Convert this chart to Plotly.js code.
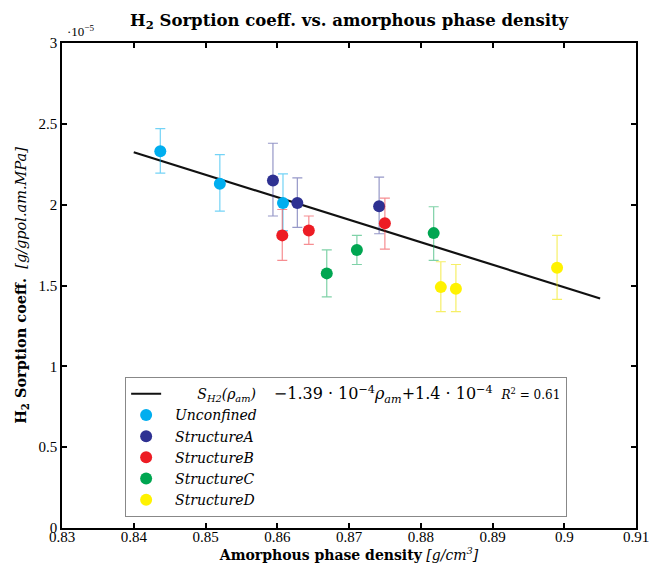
<!DOCTYPE html>
<html><head><meta charset="utf-8">
<script src="https://cdn.plot.ly/plotly-3.0.1.min.js"></script>
<style>body{margin:0;background:#fff}#chart{width:649px;height:567px}</style>
</head><body><div id="chart"></div>
<script>
// values of y in units of 1e-5
const seriesNames = ["<i>Unconfined</i>","<i>StructureA</i>","<i>StructureB</i>","<i>StructureC</i>","<i>StructureD</i>"];
const seriesColors = ["#00AEEF","#2E3192","#ED1C24","#00A651","#FFF200"];
const errColors = ["rgba(0,174,239,0.55)","rgba(46,49,146,0.5)","rgba(237,28,36,0.5)","rgba(0,166,81,0.5)","rgba(240,228,0,0.6)"];

const uncX = [0.8437, 0.8520, 0.8608];
const uncY = [2.33, 2.13, 2.01];
const uncUp = [2.47, 2.31, 2.19];
const uncLo = [2.195, 1.96, 1.84];

const aX = [0.8594, 0.8628, 0.8742];
const aY = [2.15, 2.01, 1.99];
const aUp = [2.38, 2.166, 2.17];
const aLo = [1.93, 1.86, 1.82];

const bX = [0.8607, 0.8644, 0.8750];
const bY = [1.81, 1.84, 1.885];
const bUp = [1.97, 1.93, 2.04];
const bLo = [1.655, 1.755, 1.725];

const cX = [0.8669, 0.8711, 0.8818];
const cY = [1.575, 1.72, 1.824];
const cUp = [1.72, 1.81, 1.987];
const cLo = [1.43, 1.63, 1.655];

const dX = [0.8828, 0.8849, 0.8990];
const dY = [1.49, 1.48, 1.61];
const dUp = [1.647, 1.63, 1.81];
const dLo = [1.338, 1.338, 1.414];

const fitX = [0.84, 0.905];
const fitY = [2.324, 1.42];

const xTicks = [0.83,0.84,0.85,0.86,0.87,0.88,0.89,0.9,0.91];
const xTickText = ["0.83","0.84","0.85","0.86","0.87","0.88","0.89","0.9","0.91"];
const yTicks = [0,0.5,1,1.5,2,2.5,3];
const yTickText = ["0","0.5","1","1.5","2","2.5","3"];

const groups = [[uncX,uncY,uncUp,uncLo],[aX,aY,aUp,aLo],[bX,bY,bUp,bLo],[cX,cY,cUp,cLo],[dX,dY,dUp,dLo]];

const traces = [{
  x: fitX, y: fitY, mode: "lines", type: "scatter",
  line: {color: "#111", width: 2.2},
  name: "       <i>S<sub>H2</sub>(ρ<sub>am</sub>)</i>    <span style='font-size:16px'>−1.39 · 10<sup>−4</sup><i>ρ<sub>am</sub></i>+1.4 · 10<sup>−4</sup></span>  <span style='font-size:12px'><i>R</i><sup>2</sup> = 0.61</span>"
}];
groups.forEach((g,i)=>{
  traces.push({
    x: g[0], y: g[1], type: "scatter", mode: "markers",
    name: "  " + seriesNames[i],
    marker: {color: seriesColors[i], size: 12},
    error_y: {type: "data", symmetric: false,
      array: g[2].map((v,k)=>v-g[1][k]),
      arrayminus: g[1].map((v,k)=>v-g[3][k]),
      color: errColors[i], thickness: 1.2, width: 5}
  });
});

const axisCommon = {
  showgrid: false, zeroline: false, showline: true, linecolor: "#000", linewidth: 1.5,
  mirror: "ticks", ticks: "inside", ticklen: 5, tickwidth: 1.5, tickcolor: "#000",
  ticklabeloverflow: "allow",
  tickfont: {family: "Liberation Serif, serif", size: 15, color: "#000"}
};

const layout = {
  width: 649, height: 567,
  margin: {l: 62, r: 13, t: 43, b: 39},
  paper_bgcolor: "#fff", plot_bgcolor: "#fff",
  font: {family: "Liberation Serif, serif", color: "#000"},
  title: {text: "<b>H<sub>2</sub> Sorption coeff. vs. amorphous phase density</b>",
    font: {size: 16.5, family: "DejaVu Serif, serif"}, x: 0.538, xanchor: "center", y: 0.965, yanchor: "middle"},
  xaxis: Object.assign({}, axisCommon, {range: [0.83, 0.91], tickvals: xTicks, ticktext: xTickText,
    ticklabelstandoff: -6,
    title: {text: "<b>Amorphous phase density</b> <i>[g/cm<sup>3</sup>]</i>", font: {size: 14, family: "DejaVu Serif, serif"}, standoff: 2}}),
  yaxis: Object.assign({}, axisCommon, {range: [0, 3], tickvals: yTicks, ticktext: yTickText,
    title: {text: "<b>H<sub>2</sub> Sorption coeff.</b>  <i>[g/gpol.am.MPa]</i>", font: {size: 14.5, family: "DejaVu Serif, serif"}, standoff: 8}}),
  showlegend: true,
  legend: {x: 0.11, y: 0.311, xanchor: "left", yanchor: "top",
    bgcolor: "#fff", bordercolor: "#888", borderwidth: 1,
    font: {size: 14, family: "DejaVu Serif, serif"}, itemwidth: 30, tracegroupgap: 0},
  annotations: [{text: "·10<sup>−5</sup>", xref: "paper", yref: "paper", x: 0.005, y: 1.005,
    xanchor: "left", yanchor: "bottom", showarrow: false, font: {size: 13}}]
};

Plotly.newPlot("chart", traces, layout, {displayModeBar: false});
</script></body></html>
